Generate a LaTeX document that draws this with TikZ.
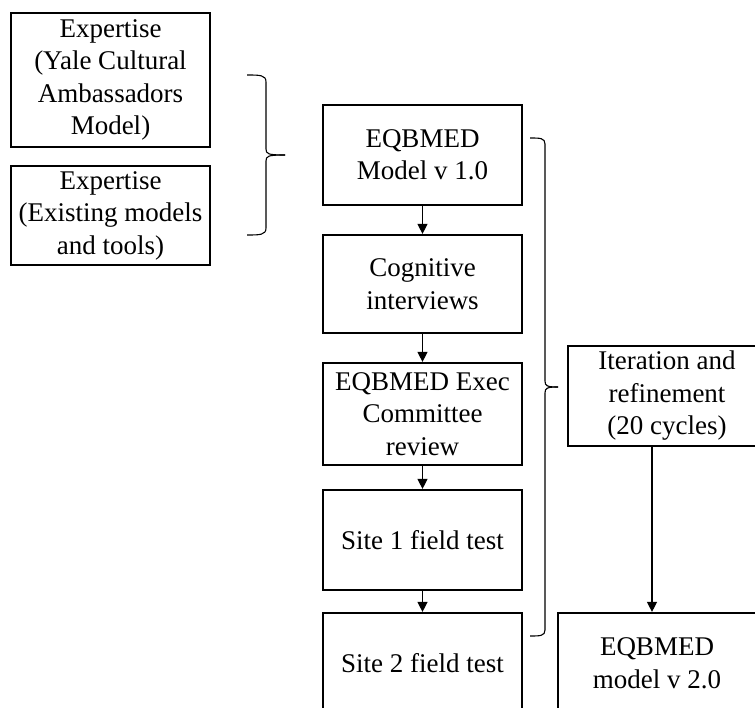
\documentclass[tikz,border=0pt]{standalone}
\usepackage{fontspec}
\setmainfont{Liberation Serif}
\usetikzlibrary{arrows.meta}
\begin{document}
\begin{tikzpicture}[x=1pt,y=-1pt,
  box/.style={draw,line width=2.2pt,inner sep=0pt,align=center,
    font=\fontsize{27}{32.5}\selectfont},
  flow/.style={line width=1.3pt,-{Triangle[length=10pt,width=10pt]}},
  bracepath/.style={line width=1.1pt}]
\useasboundingbox (0,0) rectangle (755,708);
\clip (0,0) rectangle (755,708);
\fill[white] (0,0) rectangle (755,708);

\node[box,minimum width=199pt,minimum height=134pt] (A) at (110.5,80)
  {Expertise\\(Yale Cultural\\Ambassadors\\Model)};
\node[box,minimum width=199pt,minimum height=99pt] (B) at (110.5,215.5)
  {Expertise\\(Existing models\\and tools)};

\node[box,minimum width=199pt,minimum height=100pt] (C) at (422.5,155)
  {EQBMED\\Model v 1.0};
\node[box,minimum width=199pt,minimum height=98pt] (D) at (422.5,284)
  {Cognitive\\interviews};
\node[box,minimum width=199pt,minimum height=102pt] (E) at (422.5,414)
  {EQBMED Exec\\Committee\\review};
\node[box,minimum width=199pt,minimum height=100pt] (F) at (422.5,540)
  {Site 1 field test};
\node[box,minimum width=199pt,minimum height=100pt] (G) at (422.5,663)
  {Site 2 field test};

\node[box,minimum width=198pt,minimum height=100pt] (H) at (667,396)
  {Iteration and\\refinement\\(20 cycles)};
\node[box,minimum width=198pt,minimum height=100pt] (I) at (657,663)
  {EQBMED\\model v 2.0};

\draw[flow] (C) -- (D);
\draw[flow] (D) -- (E);
\draw[flow] (E) -- (F);
\draw[flow] (F) -- (G);
\draw[flow] ([xshift=-15pt]H.south) -- ([xshift=-15pt]H.south |- I.north);

% left brace
\draw[bracepath] (247,75) .. controls (260,75) and (266,75) .. (266,82)
  -- (266,149) .. controls (266,154) and (268,155) .. (285,155);
\draw[bracepath] (247,235) .. controls (260,235) and (266,235) .. (266,228)
  -- (266,161) .. controls (266,156) and (268,155) .. (285,155);

% right brace
\draw[bracepath] (530,138) .. controls (540,138) and (545,138) .. (545,144)
  -- (545,381) .. controls (545,386) and (547,387) .. (558,387);
\draw[bracepath] (530,636) .. controls (540,636) and (545,636) .. (545,630)
  -- (545,393) .. controls (545,388) and (547,387) .. (558,387);
\end{tikzpicture}
\end{document}
